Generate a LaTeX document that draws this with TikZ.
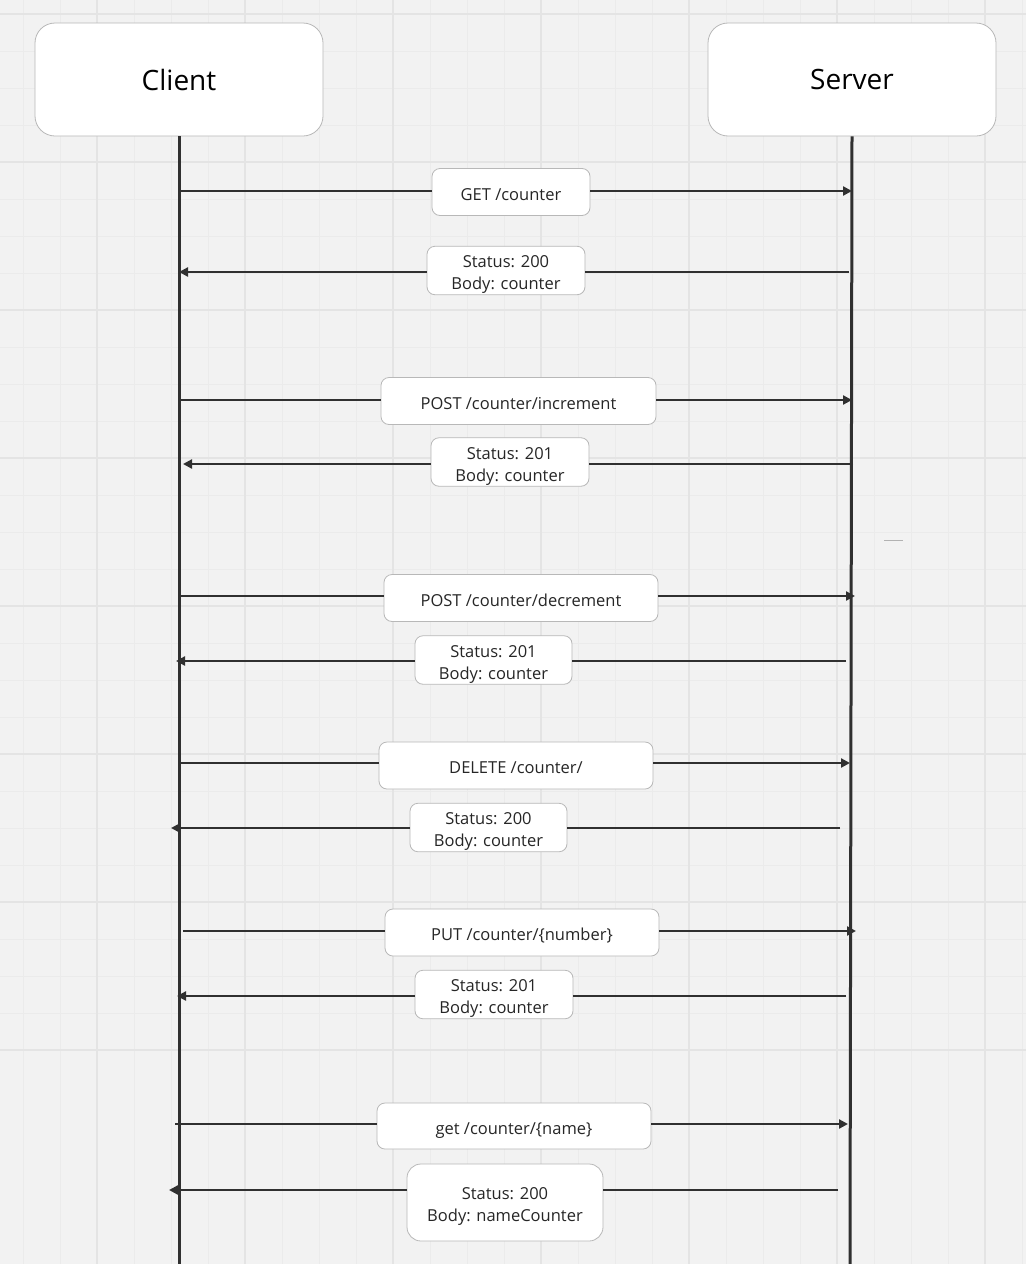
\documentclass[tikz,border=0pt]{standalone}
\usepackage{fontspec}
\setmainfont{Open Sans}
\usetikzlibrary{arrows.meta}
\definecolor{bgc}{HTML}{F2F2F2}
\definecolor{gridmaj}{HTML}{E4E4E4}
\definecolor{gridmin}{HTML}{EBEBEB}
\definecolor{ink}{HTML}{303030}
\definecolor{edge}{HTML}{B8B8B8}
\begin{document}
\begin{tikzpicture}[x=1pt, y=-1pt, >={Triangle[length=9pt,width=9pt]},
  party/.style={draw=edge, line width=0.8pt, fill=white, rounded corners=20pt, minimum width=288pt, minimum height=113pt, inner sep=0pt, font=\fontsize{28}{34}\selectfont},
  msg/.style={draw=edge, line width=0.8pt, fill=white, rounded corners=8pt, minimum height=47pt, inner sep=0pt, align=center, font=\fontsize{16.5}{22}\selectfont, text=black!85, execute at begin node={\rule[-5pt]{0pt}{26.5pt}}},
  reply/.style={msg, execute at begin node={\rule[-5pt]{0pt}{48.5pt}}},
  wire/.style={draw=ink, line width=2.7pt},
  life/.style={draw=ink, line width=3pt}]
\useasboundingbox (0,0) rectangle (1026,1264);
\fill[bgc] (0,0) rectangle (1026,1264);
% grid
\foreach \k in {-2,...,28} {
  \draw[gridmin, line width=1pt] (97+37*\k,0) -- (97+37*\k,1264);
  \draw[gridmin, line width=1pt] (0,14+37*\k) -- (1026,14+37*\k);
}
\foreach \k in {-1,...,7} {
  \draw[gridmaj, line width=2pt] (97+148*\k,0) -- (97+148*\k,1264);
  \draw[gridmaj, line width=2pt] (0,14+148*\k) -- (1026,14+148*\k);
}
\draw[black!30, line width=1pt] (884,540) -- (903,540);

% participants
\node[party] (client) at (179,79.5) {Client};
\node[party] (server) at (852,79.5) {Server};
\coordinate (cend) at (179,1264);
\coordinate (send) at (850,1264);
\draw[life] (client.south) -- (cend);
\draw[life] (server.south) -- (send);

% requests
\node[msg, minimum width=158pt] (m1) at (511,192) {GET /counter};
\node[msg, minimum width=275pt] (m3) at (518.5,401) {POST /counter/increment};
\node[msg, minimum width=274pt] (m5) at (521,598) {POST /counter/decrement};
\node[msg, minimum width=274pt] (m7) at (516,765.5) {DELETE /counter/};
\node[msg, minimum width=274pt] (m9) at (522,932.5) {PUT /counter/\{number\}};
\node[msg, minimum width=274pt, minimum height=46pt] (m11) at (514,1126) {get /counter/\{name\}};
% replies
\node[reply, minimum width=158pt] (m2) at (506,270.5) {Status: 200\\Body: counter};
\node[reply, minimum width=158pt, minimum height=48pt] (m4) at (510,462) {Status: 201\\Body: counter};
\node[reply, minimum width=157pt, minimum height=48pt] (m6) at (493.5,660) {Status: 201\\Body: counter};
\node[reply, minimum width=157pt] (m8) at (488.5,827.5) {Status: 200\\Body: counter};
\node[reply, minimum width=158pt] (m10) at (494,994.5) {Status: 201\\Body: counter};
\node[reply, minimum width=196pt, minimum height=77pt, rounded corners=14pt] (m12) at (505,1202.5) {Status: 200\\Body: nameCounter};

% ends on the lifelines
\coordinate (a1) at (179,191);   \coordinate (b1) at (852,191);
\coordinate (a2) at (179,272);   \coordinate (b2) at (849,272);
\coordinate (a3) at (179,400);   \coordinate (b3) at (852,400);
\coordinate (a4) at (183,464);   \coordinate (b4) at (853,464);
\coordinate (a5) at (181,596);   \coordinate (b5) at (855,596);
\coordinate (a6) at (176,661);   \coordinate (b6) at (846,661);
\coordinate (a7) at (178,763);   \coordinate (b7) at (850,763);
\coordinate (a8) at (171,828);   \coordinate (b8) at (840,828);
\coordinate (a9) at (183,931);   \coordinate (b9) at (856,931);
\coordinate (a10) at (177,996);  \coordinate (b10) at (846,996);
\coordinate (a11) at (175,1124); \coordinate (b11) at (848,1124);
\coordinate (a12) at (169,1190); \coordinate (b12) at (838,1190);

\foreach \i in {1,3,5,7,9,11} {
  \draw[wire] (a\i) -- (a\i -| m\i.west);
  \draw[wire, ->] (b\i -| m\i.east) -- (b\i);
}
\foreach \i in {2,4,6,8,10,12} {
  \draw[wire] (b\i) -- (b\i -| m\i.east);
  \draw[wire, ->] (a\i -| m\i.west) -- (a\i);
}
\end{tikzpicture}
\end{document}
